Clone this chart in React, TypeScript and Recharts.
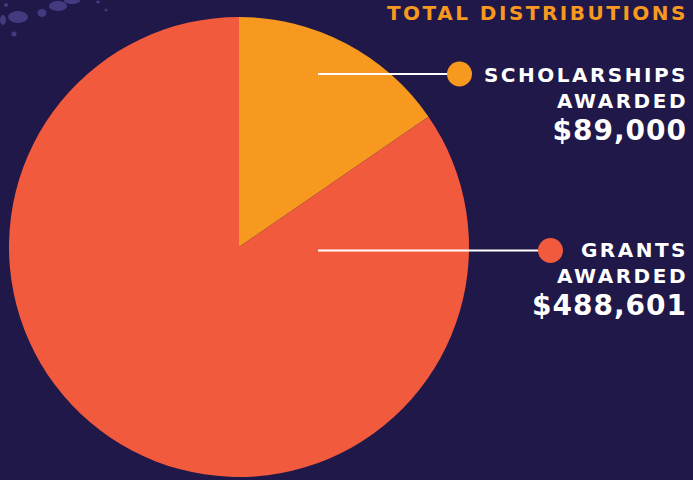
import { PieChart, Pie, Cell } from "recharts"

const labels = ["SCHOLARSHIPS", "GRANTS"]
const amounts = [89000, 488601]
const colors = ["#f7991f", "#f15a3c"]

const data = labels.map((name, i) => ({ name, value: amounts[i] }))

const BG = "#1f1849"
const FONT = "'DejaVu Sans', sans-serif"

// where each callout sits (line start, dot, text block)
const callouts = [
    { y: 74, x0: 318, dot: 459.5, r: 12.5, textTop: 82 },
    { y: 250.5, x0: 318, dot: 550.5, r: 12.5, textTop: 257 },
]

// paint splatter in the top-left corner
const blobs = [
    { x: 18, y: 17, rx: 10, ry: 6 },
    { x: 3, y: 20, rx: 3, ry: 5 },
    { x: 42, y: 13, rx: 4.5, ry: 4 },
    { x: 14, y: 34, rx: 2.5, ry: 2.5 },
    { x: 58, y: 6, rx: 9, ry: 5 },
    { x: 72, y: 1, rx: 8, ry: 3 },
    { x: 6, y: 5, rx: 2, ry: 2 },
    { x: 106, y: 10, rx: 1.5, ry: 1.5 },
    { x: 98, y: 2, rx: 2, ry: 1.5 },
]

const RIGHT = 688

function renderLabel(props: any) {
    const i = props.index
    const c = callouts[i]
    const fmt = "$" + amounts[i].toLocaleString("en-US")
    return (
        <g key={`lbl-${i}`}>
            <line x1={c.x0} y1={c.y} x2={c.dot} y2={c.y} stroke="#ffffff" strokeWidth={2} />
            <circle cx={c.dot} cy={c.y} r={c.r} fill={colors[i]} />
            <text x={RIGHT} y={c.textTop} textAnchor="end" fill="#ffffff" fontFamily={FONT}
                fontWeight="bold" fontSize={20} letterSpacing={2.5}>
                {labels[i]}
            </text>
            <text x={RIGHT} y={c.textTop + 26} textAnchor="end" fill="#ffffff" fontFamily={FONT}
                fontWeight="bold" fontSize={20} letterSpacing={2.5}>
                AWARDED
            </text>
            <text x={RIGHT - 1} y={c.textTop + 58} textAnchor="end" fill="#ffffff" fontFamily={FONT}
                fontWeight="bold" fontSize={28} letterSpacing={1}>
                {fmt}
            </text>
        </g>
    )
}

export default function App() {
    return (
        <div style={{ position: "absolute", left: 0, top: 0, width: 693, height: 480, background: BG }}>
            <PieChart width={693} height={480} margin={{ top: 0, right: 0, bottom: 0, left: 0 }}>
                <g>
                    {blobs.map((b, i) => (
                        <ellipse key={i} cx={b.x} cy={b.y} rx={b.rx} ry={b.ry} fill="#433b80" />
                    ))}
                </g>
                <text x={688} y={20} textAnchor="end" fill="#f7991f" fontFamily={FONT}
                    fontWeight="bold" fontSize={20} letterSpacing={2.5}>
                    TOTAL DISTRIBUTIONS
                </text>
                <Pie
                    data={data}
                    dataKey="value"
                    nameKey="name"
                    cx={239}
                    cy={247}
                    outerRadius={230}
                    startAngle={90}
                    endAngle={-270}
                    stroke="none"
                    labelLine={false}
                    label={renderLabel}
                    isAnimationActive={false}
                >
                    {data.map((d, i) => (
                        <Cell key={d.name} fill={colors[i]} />
                    ))}
                </Pie>
            </PieChart>
        </div>
    )
}
